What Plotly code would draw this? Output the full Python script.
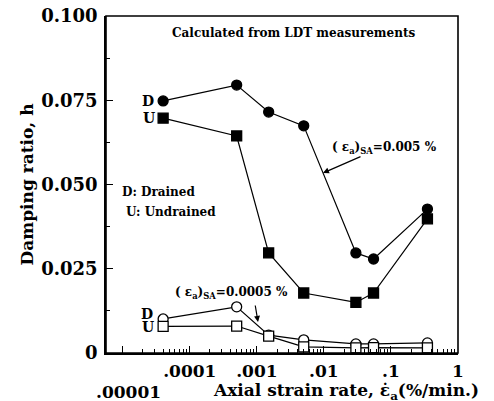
import plotly.graph_objects as go

# strain rate (%/min)
rate = [0.00004, 0.0005, 0.0015, 0.005, 0.03, 0.055, 0.35]
# (eps_a)SA = 0.005 %
d_005 = [0.0748, 0.0795, 0.0715, 0.0674, 0.0297, 0.0279, 0.0427]
u_005 = [0.0697, 0.0644, 0.0297, 0.0178, 0.0150, 0.0178, 0.0398]
# (eps_a)SA = 0.0005 %
d_0005 = [0.0101, 0.0137, 0.0053, 0.0039, 0.0027, 0.0027, 0.0030]
u_0005 = [0.0079, 0.0080, 0.0050, 0.0018, 0.0015, 0.0016, 0.0015]

x_tickvals = [0.00001, 0.0001, 0.001, 0.01, 0.1, 1]
x_ticktext = ["", ".0001", ".001", ".01", ".1", "1"]
x_minor = [m * d for d in [0.00001, 0.0001, 0.001, 0.01, 0.1] for m in range(2, 10)]
y_tickvals = [0, 0.025, 0.05, 0.075, 0.1]
y_ticktext = ["0", "0.025", "0.050", "0.075", "0.100"]
y_minor = [0.0125, 0.0375, 0.0625, 0.0875]

SERIF = "DejaVu Serif"
OFF = 8  # page body margin

fig = go.Figure()

def add(y, symbol, fill):
    fig.add_trace(go.Scatter(
        x=rate, y=y, mode="lines+markers",
        line=dict(color="black", width=1.2),
        marker=dict(symbol=symbol, size=10, color=fill,
                    line=dict(color="black", width=1.3)),
        showlegend=False, cliponaxis=False))

add(d_005, "circle", "black")
add(u_005, "square", "black")
add(d_0005, "circle", "white")
add(u_0005, "square", "white")

def px(x):
    return (x - 106) / 352

def py(y):
    return (353 - y) / 337

def note(text, x, y, size=13, xanchor="center"):
    fig.add_annotation(text=text, x=x, y=y, xref="paper", yref="paper",
                       showarrow=False, xanchor=xanchor, yanchor="middle",
                       font=dict(family=SERIF, size=size, color="black", weight="bold"))

def arrow(hx, hy, tx, ty):
    fig.add_annotation(text="", x=px(hx), y=py(hy), xref="paper", yref="paper",
                       ax=tx - hx, ay=ty - hy, showarrow=True, arrowhead=2,
                       arrowsize=1, arrowwidth=1.2, arrowcolor="black")

note("Calculated from LDT measurements", px(293), py(33), size=12)
note("D: Drained", px(120), py(192), size=12, xanchor="left")
note("U: Undrained", px(124), py(212), size=12, xanchor="left")
note("D", px(156), py(101), size=14, xanchor="right")
note("U", px(157), py(118), size=14, xanchor="right")
note("D", px(155), py(314), size=14, xanchor="right")
note("U", px(156), py(327), size=14, xanchor="right")
note("( ε<sub>a</sub>)<sub>SA</sub>=0.005 %", px(384), py(148), size=12)
note("( ε<sub>a</sub>)<sub>SA</sub>=0.0005 %", px(231), py(293), size=12)
arrow(323, 173, 362, 156)
arrow(258, 322, 255, 304)
note(".00001", px(128), py(392), size=17)
note("Axial strain rate, ε̇<sub>a</sub>(%/min.)", px(346), py(392), size=17)

# plot frame
fig.add_shape(type="rect", xref="paper", yref="paper", x0=0, x1=1, y0=0, y1=1,
              line=dict(color="black", width=1.6), layer="above")

tick_common = dict(
    ticks="inside", ticklen=7, tickwidth=1.4, tickcolor="black",
    showline=True, linecolor="black", linewidth=1.6,
    showgrid=False, zeroline=False, automargin=False,
)
minor_common = dict(tickmode="array", ticks="inside", ticklen=4,
                    tickwidth=1, tickcolor="black", showgrid=False)

fig.update_layout(
    xaxis=dict(
        type="log", range=[-5.25, 0.0],
        tickmode="array", tickvals=x_tickvals, ticktext=x_ticktext,
        minor=dict(tickvals=x_minor, **minor_common),
        ticklabelstandoff=2, ticklabeloverflow="allow",
        tickfont=dict(family=SERIF, size=17, color="black", weight="bold"),
        **tick_common,
    ),
    xaxis2=dict(
        type="log", range=[-5.25, 0.0], overlaying="x", side="top",
        tickmode="array", tickvals=x_tickvals, showticklabels=False,
        minor=dict(tickvals=x_minor, **minor_common),
        **tick_common,
    ),
    yaxis=dict(
        range=[0, 0.1],
        tickmode="array", tickvals=y_tickvals, ticktext=y_ticktext,
        minor=dict(tickvals=y_minor, **minor_common),
        ticklabelstandoff=3, ticklabeloverflow="allow",
        tickfont=dict(family=SERIF, size=18, color="black", weight="bold"),
        title=dict(text="Damping ratio, h", standoff=3,
                   font=dict(family=SERIF, size=17, color="black", weight="bold")),
        **tick_common,
    ),
    yaxis2=dict(
        range=[0, 0.1], overlaying="y", side="right",
        tickmode="array", tickvals=y_tickvals, showticklabels=False,
        minor=dict(tickvals=y_minor, **minor_common),
        **tick_common,
    ),
    width=494 - OFF, height=401 - OFF,
    margin=dict(l=106 - OFF, r=36, t=16 - OFF, b=48),
    paper_bgcolor="white", plot_bgcolor="white",
)
fig.write_html("out.html")
